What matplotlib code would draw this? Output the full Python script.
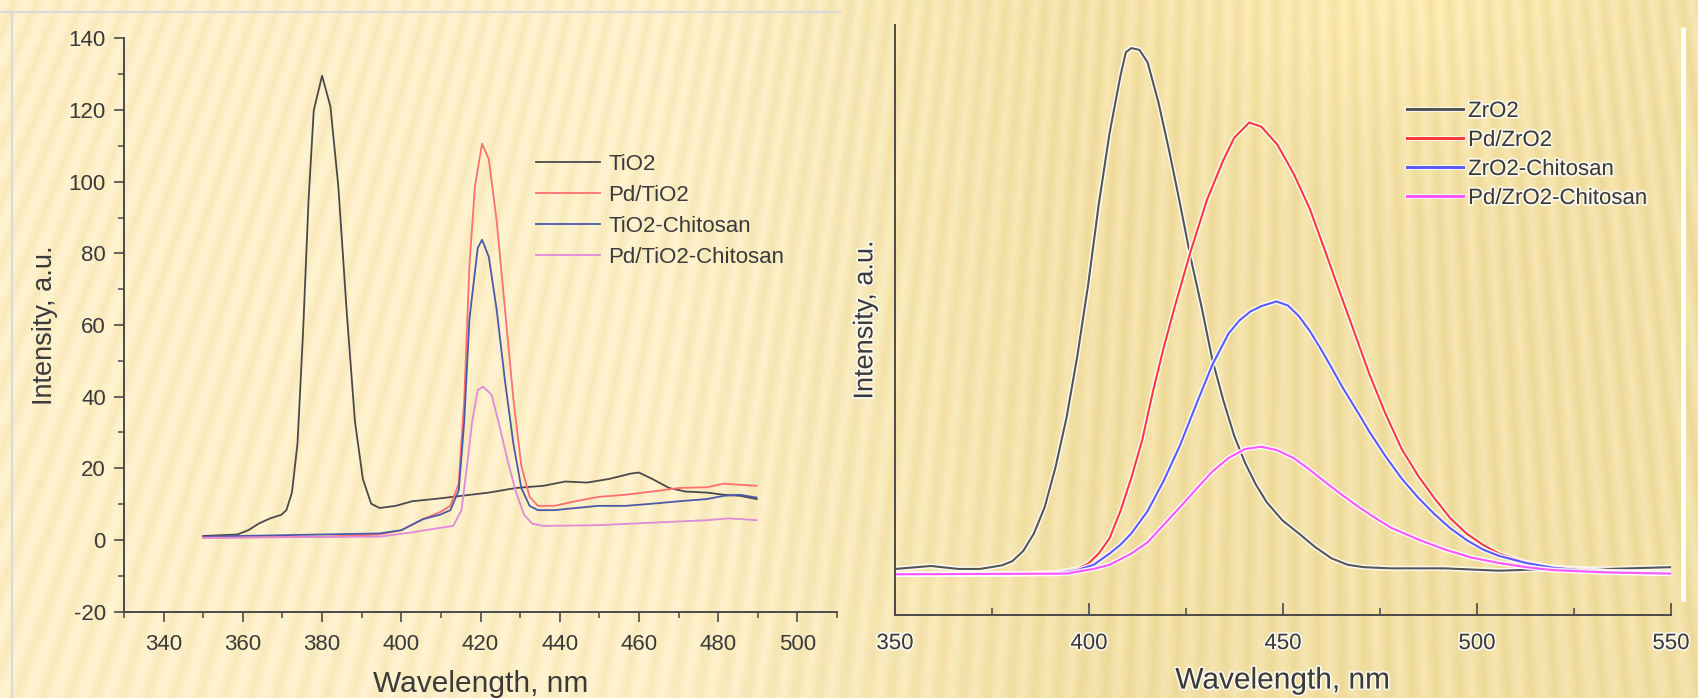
import numpy as np
import matplotlib
matplotlib.use("Agg")
import matplotlib.pyplot as plt
import matplotlib.patheffects as pe
from matplotlib.ticker import MultipleLocator

plt.rcParams['font.family'] = ['Liberation Sans', 'DejaVu Sans']
plt.rcParams['axes.unicode_minus'] = False

# ---------------- Left panel data (TiO2 series) ----------------
tio2_nm = [350.0, 358.6, 361.4, 364.1, 366.9, 369.7, 371.0, 372.4, 373.8, 375.2, 376.6,
           377.9, 380.0, 382.1, 384.1, 386.2, 388.3, 390.3, 392.4, 394.5, 398.6, 402.8,
           408.3, 415.2, 422.1, 429.0, 435.9, 441.4, 446.9, 452.4, 457.9, 460.0, 463.4,
           467.6, 471.7, 477.2, 481.4, 485.5, 489.7]
tio2_int = [1.1, 1.5, 2.7, 4.6, 6.0, 7.0, 8.3, 13.2, 26.9, 57.9, 95.1,
            119.9, 129.6, 121.1, 98.8, 64.1, 33.1, 17.0, 10.1, 8.9, 9.5, 10.8,
            11.4, 12.3, 13.2, 14.5, 15.1, 16.3, 16.0, 17.0, 18.5, 18.8, 17.0,
            14.5, 13.5, 13.2, 12.6, 12.3, 11.4]

pd_tio2_nm = [350.0, 381.0, 394.5, 400.0, 405.5, 409.7, 412.4, 414.5, 415.9, 417.2, 418.6,
              420.4, 422.1, 424.1, 426.2, 428.3, 430.3, 432.4, 434.5, 438.6, 444.1,
              449.7, 456.6, 463.4, 470.3, 477.2, 481.4, 485.5, 489.7]
pd_tio2_int = [0.6, 0.9, 1.5, 2.7, 5.8, 7.7, 9.5, 15.7, 39.3, 76.5, 98.8,
               110.6, 106.3, 88.9, 64.1, 39.3, 20.7, 12.0, 9.5, 9.5, 10.8,
               12.0, 12.6, 13.5, 14.5, 14.7, 15.7, 15.4, 15.1]

tio2_chi_nm = [350.0, 394.5, 400.0, 405.5, 409.7, 412.4, 414.5, 415.9, 417.2, 419.3,
               420.4, 422.1, 424.1, 426.2, 428.3, 430.3, 432.4, 434.5, 438.6, 444.1,
               449.7, 456.6, 463.4, 470.3, 477.2, 481.4, 485.5, 489.7]
tio2_chi_int = [0.9, 1.8, 2.7, 5.8, 7.0, 8.3, 13.8, 33.1, 61.6, 81.5,
                83.8, 79.0, 64.1, 44.2, 26.9, 14.5, 9.5, 8.3, 8.3, 8.9,
                9.5, 9.5, 10.1, 10.8, 11.4, 12.3, 12.6, 11.8]

pd_tio2_chi_nm = [350.0, 394.5, 402.8, 408.3, 413.1, 415.2, 416.6, 417.9, 419.3, 420.7,
                  422.8, 424.8, 426.9, 429.0, 431.0, 433.1, 435.9, 449.7, 463.4, 477.2,
                  482.7, 489.7]
pd_tio2_chi_int = [0.6, 0.9, 2.1, 3.1, 3.9, 8.3, 20.7, 33.1, 41.8, 42.8,
                   40.5, 31.8, 21.9, 13.2, 7.0, 4.5, 3.9, 4.1, 4.8, 5.5,
                   6.0, 5.5]

left_labels = ['TiO2', 'Pd/TiO2', 'TiO2-Chitosan', 'Pd/TiO2-Chitosan']
left_colors = ['#4a4a4a', '#ff6f6f', '#4a5aa8', '#e08ad8']

left_xticks = [340, 360, 380, 400, 420, 440, 460, 480, 500]
left_yticks = [-20, 0, 20, 40, 60, 80, 100, 120, 140]

# ---------------- Right panel data (ZrO2 series) ----------------
zro2_nm = [350.0, 359.3, 366.3, 371.9, 377.5, 380.2, 383.0, 385.8, 388.6, 391.4, 394.2,
           397.0, 399.8, 402.5, 405.3, 408.1, 409.5, 410.9, 413.0, 415.1, 417.9, 420.7,
           423.5, 426.2, 429.0, 431.8, 434.6, 437.4, 440.2, 443.0, 445.8, 449.9, 454.1,
           458.3, 462.5, 466.7, 470.8, 477.8, 491.7, 505.7, 519.6, 533.6, 550.0]
zro2_int = [7.8, 8.3, 7.8, 7.8, 8.4, 9.1, 10.8, 13.8, 18.3, 25.1, 33.4,
            43.9, 56.0, 69.5, 81.6, 91.3, 95.3, 96.0, 95.7, 93.6, 86.8, 78.5,
            69.5, 60.5, 52.2, 43.2, 36.4, 30.4, 25.8, 22.1, 19.1, 16.0, 13.8,
            11.5, 9.6, 8.5, 8.1, 7.9, 7.9, 7.5, 7.8, 7.8, 8.1]

pd_zro2_nm = [350.0, 380.2, 391.4, 397.0, 399.8, 402.5, 405.3, 408.1, 410.9, 413.7,
              416.5, 419.3, 422.1, 426.2, 430.4, 434.6, 437.4, 441.3, 444.4, 448.5,
              452.7, 456.9, 461.1, 463.9, 468.1, 472.2, 476.4, 480.6, 484.8, 489.0,
              493.1, 497.3, 501.5, 505.7, 512.7, 519.6, 526.6, 533.6, 550.0]
pd_zro2_int = [6.9, 6.9, 7.2, 7.8, 8.7, 10.4, 13.0, 17.6, 23.2, 29.6,
               37.9, 45.4, 52.2, 61.6, 70.3, 77.0, 80.8, 83.4, 82.7, 79.7,
               74.8, 68.8, 61.2, 56.0, 48.4, 40.9, 34.1, 28.1, 23.6, 19.8,
               16.4, 13.8, 11.9, 10.4, 8.9, 8.1, 7.8, 7.4, 7.0]

zro2_chi_nm = [350.0, 391.4, 397.0, 401.2, 405.3, 408.1, 410.9, 415.1, 419.3, 423.5,
               427.6, 431.8, 436.0, 438.8, 441.6, 444.4, 448.3, 451.3, 454.1, 456.9,
               459.7, 462.5, 465.3, 469.5, 472.2, 476.4, 480.6, 484.8, 489.0, 493.1,
               497.3, 501.5, 505.7, 512.7, 519.6, 526.6, 533.6, 550.0]
zro2_chi_int = [6.9, 7.0, 7.6, 8.5, 10.4, 11.9, 13.8, 17.6, 22.8, 28.8,
                35.6, 42.4, 47.7, 49.9, 51.4, 52.3, 53.1, 52.4, 50.6, 48.1,
                45.1, 41.9, 38.6, 34.1, 31.1, 26.9, 23.1, 19.9, 17.1, 14.7,
                12.7, 11.1, 10.0, 8.8, 8.0, 7.6, 7.3, 7.1]

pd_zro2_chi_nm = [350.0, 394.2, 401.2, 405.3, 410.9, 415.1, 419.3, 423.5, 427.6, 431.8,
                  436.0, 440.2, 444.4, 448.5, 452.7, 456.9, 461.1, 465.3, 469.5, 473.6,
                  477.8, 484.8, 491.7, 498.7, 505.7, 512.7, 519.6, 533.6, 550.0]
pd_zro2_chi_int = [6.9, 7.0, 7.8, 8.5, 10.4, 12.3, 15.3, 18.3, 21.3, 24.3,
                   26.6, 28.1, 28.5, 27.9, 26.6, 24.6, 22.4, 20.3, 18.3, 16.5,
                   14.8, 12.8, 11.1, 9.7, 8.8, 8.1, 7.6, 7.2, 7.0]

right_labels = ['ZrO2', 'Pd/ZrO2', 'ZrO2-Chitosan', 'Pd/ZrO2-Chitosan']
right_colors = ['#555555', '#ff3838', '#5a5aff', '#ff55ff']

right_xticks = [350, 400, 450, 500, 550]

TEXT = '#3a3a3a'
W, H = 1698, 698

fig = plt.figure(figsize=(W / 100, H / 100), dpi=100)

# ---------------- background (slide decoration) ----------------
bg = fig.add_axes([0, 0, 1, 1], zorder=-10)
yy, xx = np.mgrid[0:H, 0:W].astype(float)
ang = np.arctan2(xx - 1300.0, yy + 3000.0)
stripe = np.sin(ang / 0.0064 * 2 * np.pi)
t = np.clip((xx - 650.0) / 450.0, 0, 1)
pale = np.array([253, 239, 199], float)
gold = np.array([242, 224, 165], float)
img = pale[None, None, :] * (1 - t[..., None]) + gold[None, None, :] * t[..., None]
img += (5.5 * stripe)[..., None] * np.array([0.6, 0.8, 1.6])[None, None, :]
spot = np.exp(-(((xx - 1380) / 220.0) ** 2 + ((yy + 20) / 140.0) ** 2))
img += 10 * spot[..., None]
img = np.clip(img, 0, 255) / 255.0
bg.imshow(img, aspect='auto', extent=[0, W, H, 0])
bg.set_xlim(0, W)
bg.set_ylim(H, 0)
bg.axis('off')
# frame of the pasted left image and white bar at right
bg.plot([0, 840], [12, 12], color='#d9d9d9', lw=1.5)
bg.plot([12, 12], [12, H], color='#d9d9d9', lw=1.5)
bg.plot([1683, 1683], [27, 601], color='white', lw=3.5, solid_capstyle='butt')

# ---------------- Left panel ----------------
axL = fig.add_axes([124 / W, 1 - 611.5 / H, (837 - 124) / W, (611.5 - 38.5) / H])
axL.set_facecolor('none')
left_x = [tio2_nm, pd_tio2_nm, tio2_chi_nm, pd_tio2_chi_nm]
left_y = [tio2_int, pd_tio2_int, tio2_chi_int, pd_tio2_chi_int]
for xs, ys, c, lab in zip(left_x, left_y, left_colors, left_labels):
    axL.plot(xs, ys, color=c, lw=1.3, label=lab)
axL.set_xlim(330, 510)
axL.set_ylim(-20, 140)
axL.set_xticks(left_xticks)
axL.set_yticks(left_yticks)
axL.xaxis.set_minor_locator(MultipleLocator(10))
axL.yaxis.set_minor_locator(MultipleLocator(10))
for s in ['top', 'right']:
    axL.spines[s].set_visible(False)
for s in ['left', 'bottom']:
    axL.spines[s].set_color('#4a4a4a')
    axL.spines[s].set_linewidth(1.4)
axL.tick_params(which='major', direction='out', length=7, width=1.2, color='#4a4a4a',
                labelsize=16, labelcolor=TEXT)
axL.tick_params(axis='x', which='major', pad=9)
axL.tick_params(axis='y', which='major', pad=6)
axL.tick_params(which='minor', direction='out', length=4, width=1.1, color='#4a4a4a')
axL.set_xlabel('Wavelength, nm', fontsize=21.5, color=TEXT, labelpad=11)
axL.set_ylabel('Intensity, a.u.', fontsize=19.5, color=TEXT, labelpad=8)
legL = axL.legend(loc='upper left', bbox_to_anchor=(536 / W, 1 - 154 / H),
                  bbox_transform=fig.transFigure, frameon=False, fontsize=16,
                  borderpad=0, borderaxespad=0, handlelength=2.9, handletextpad=0.35,
                  labelspacing=0.45)
for txt in legL.get_texts():
    txt.set_color(TEXT)

# ---------------- Right panel ----------------
halo = [pe.Stroke(linewidth=3.6, foreground='white', alpha=0.85), pe.Normal()]
thalo = [pe.withStroke(linewidth=2.5, foreground='white', alpha=0.8)]
axR = fig.add_axes([895 / W, 1 - 615 / H, (1671 - 895) / W, (615 - 24.5) / H])
axR.set_facecolor('none')
right_x = [zro2_nm, pd_zro2_nm, zro2_chi_nm, pd_zro2_chi_nm]
right_y = [zro2_int, pd_zro2_int, zro2_chi_int, pd_zro2_chi_int]
for xs, ys, c, lab in zip(right_x, right_y, right_colors, right_labels):
    axR.plot(xs, ys, color=c, lw=1.5, label=lab, path_effects=halo)
axR.set_xlim(350, 550)
axR.set_ylim(0, 100)
axR.set_xticks(right_xticks)
axR.xaxis.set_minor_locator(MultipleLocator(25))
axR.set_yticks([])
for s in ['top', 'right']:
    axR.spines[s].set_visible(False)
for s in ['left', 'bottom']:
    axR.spines[s].set_color('#4a4a4a')
    axR.spines[s].set_linewidth(1.4)
axR.tick_params(which='major', direction='in', length=9, width=1.2, color='#4a4a4a',
                labelsize=16, labelcolor=TEXT, pad=13)
axR.tick_params(which='minor', direction='in', length=5, width=1.1, color='#4a4a4a')
for lab in axR.get_xticklabels():
    lab.set_path_effects(thalo)
axR.set_xlabel('Wavelength, nm', fontsize=21.5, color=TEXT, labelpad=9,
               path_effects=thalo)
axR.set_ylabel('Intensity, a.u.', fontsize=19.5, color=TEXT, labelpad=12,
               path_effects=thalo)
legR = axR.legend(loc='upper left', bbox_to_anchor=(1407 / W, 1 - 101 / H),
                  bbox_transform=fig.transFigure, frameon=False, fontsize=16,
                  borderpad=0, borderaxespad=0, handlelength=2.5, handletextpad=0.25,
                  labelspacing=0.36)
for txt, ln in zip(legR.get_texts(), legR.get_lines()):
    txt.set_color(TEXT)
    txt.set_path_effects(thalo)
    ln.set_linewidth(2.2)

fig.savefig('out.png', dpi=100)
